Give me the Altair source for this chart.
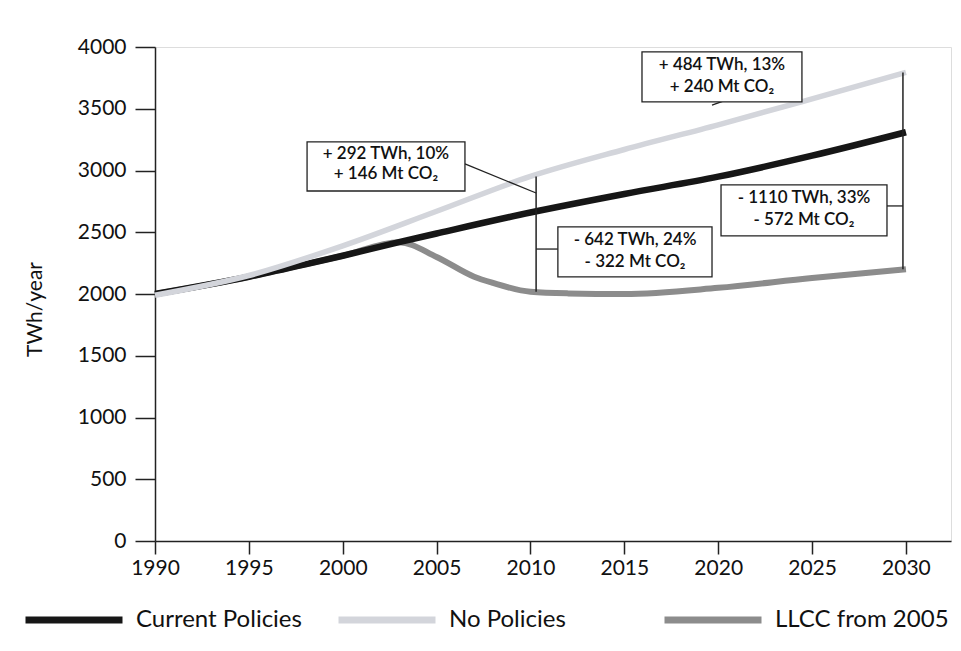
import altair as alt
import pandas as pd

# ---- series data (TWh/year) ----
years_cp = [1990, 1995, 1998, 2000, 2003, 2005, 2010, 2015, 2020, 2025, 2030]
current_policies = [2000, 2140, 2240, 2310, 2420, 2490, 2660, 2810, 2950, 3120, 3310]

years_np = [1990, 1995, 2000, 2005, 2010, 2015, 2020, 2025, 2030]
no_policies = [1990, 2150, 2390, 2670, 2952, 3170, 3370, 3580, 3794]

years_ll = [1990, 1995, 1998, 2000, 2003, 2005, 2007, 2008, 2010, 2012, 2015, 2020, 2025, 2030]
llcc = [2000, 2140, 2240, 2310, 2420, 2300, 2140, 2090, 2018, 2005, 2000, 2050, 2130, 2200]

series_names = ["Current Policies", "No Policies", "LLCC from 2005"]
series_colors = ["#161616", "#d3d5db", "#8c8c8c"]

# ---- annotation texts ----
line1_texts = ["+ 292 TWh, 10%", "- 642 TWh, 24%", "+ 484 TWh, 13%", "- 1110 TWh, 33%"]
line2_texts = ["+ 146 Mt CO\u2082", "- 322 Mt CO\u2082", "+ 240 Mt CO\u2082", "- 572 Mt CO\u2082"]

# ---- annotation placement (data coordinates) ----
box_x = [1998.1, 2011.46, 2015.94, 2020.15]
box_x2 = [2006.51, 2019.67, 2024.46, 2028.99]
box_y = [3231, 2543, 3960, 2883]
box_y2 = [2834, 2138, 3555, 2470]
text_x = [2002.3, 2015.57, 2020.2, 2024.57]
text_y1 = [3134, 2437, 3854, 2777]
text_y2 = [2972, 2259, 3676, 2599]

bracket_x = [2010.3, 2029.84]
conn_x = [2006.51, 2010.3, 2019.67, 2029.84]
conn_x_end = [2010.3, 2011.46, 2024.46, 2028.99]
conn_y = [3053, 2364, 3530, 2713]
conn_y_end = [2818, 2364, 3789, 2713]

df_cp = pd.DataFrame({"year": years_cp, "value": current_policies, "series": series_names[0]})
df_np = pd.DataFrame({"year": years_np, "value": no_policies, "series": series_names[1]})
df_ll = pd.DataFrame({"year": years_ll, "value": llcc, "series": series_names[2]})

# brackets spanning between the scenario lines at 2010 and 2030
df_br = pd.DataFrame({
    "x": bracket_x,
    "y": [llcc[years_ll.index(2010)], llcc[-1]],
    "y2": [no_policies[years_np.index(2010)], no_policies[-1]],
})
df_conn = pd.DataFrame({"x": conn_x, "x2": conn_x_end, "y": conn_y, "y2": conn_y_end})
df_box = pd.DataFrame({"x": box_x, "x2": box_x2, "y": box_y, "y2": box_y2})
df_txt = pd.DataFrame({
    "x": text_x + text_x,
    "y": text_y1 + text_y2,
    "t": line1_texts + line2_texts,
})

FONT = "Lato"
INK = "#111111"

xs = alt.Scale(domain=[1990, 2032.4], nice=False, zero=False)
ys = alt.Scale(domain=[0, 4000], nice=False)
cs = alt.Scale(domain=series_names, range=series_colors)

x_axis = alt.Axis(values=list(range(1990, 2031, 5)), format="d", title=None,
                  tickSize=13, labelPadding=3, labelFontSize=21, labelFont=FONT,
                  labelColor=INK, domainColor="#222", tickColor="#222",
                  domainWidth=1.5, tickWidth=1.5, grid=False, labelFlush=False)
y_axis = alt.Axis(values=list(range(0, 4001, 500)), format="d", title="TWh/year",
                  tickSize=20, labelPadding=9, labelFontSize=21, labelFont=FONT,
                  labelColor=INK, domainColor="#222", tickColor="#222",
                  domainWidth=1.5, tickWidth=1.5, grid=False,
                  titleFont=FONT, titleFontSize=21, titleFontWeight="normal",
                  titleColor=INK, titleX=-120, titleY=262,
                  titleAngle=270, titleBaseline="middle", titleAlign="center")

nbsp = "\u00a0"
zwsp = "\u200b"
legend = alt.Legend(
    title=None, orient="none", legendX=-133, legendY=521, direction="horizontal",
    symbolType="stroke", symbolSize=9409, symbolStrokeWidth=7,
    labelFontSize=24, labelFont=FONT, labelColor=INK, labelOffset=10,
    columnPadding=22, labelLimit=600,
    labelExpr=f"datum.label == 'No Policies' ? pad(datum.label, 21, '{nbsp}') + '{zwsp}' : datum.label",
)

def series_layer(df, width):
    return alt.Chart(df).mark_line(interpolate="monotone", strokeWidth=width, strokeCap="butt").encode(
        x=alt.X("year:Q", scale=xs, axis=x_axis),
        y=alt.Y("value:Q", scale=ys, axis=y_axis),
        color=alt.Color("series:N", scale=cs, legend=legend),
    )

l_ll = series_layer(df_ll, 6)
l_cp = series_layer(df_cp, 6.5)
l_np = series_layer(df_np, 5.5)

brackets = alt.Chart(df_br).mark_rule(color="#222", strokeWidth=1.5).encode(
    x="x:Q", y="y:Q", y2="y2:Q")
conns = alt.Chart(df_conn).mark_rule(color="#222", strokeWidth=1.3).encode(
    x="x:Q", x2="x2:Q", y="y:Q", y2="y2:Q")
boxes = alt.Chart(df_box).mark_rect(fill="white", stroke="#222", strokeWidth=1.3).encode(
    x="x:Q", x2="x2:Q", y="y:Q", y2="y2:Q")
texts = alt.Chart(df_txt).mark_text(font=FONT, fontSize=17, fontWeight=600, color=INK,
                                    align="center", baseline="middle").encode(
    x="x:Q", y="y:Q", text="t:N")

chart = alt.layer(l_ll, l_cp, l_np, brackets, conns, boxes, texts).properties(
    width=796, height=494,
    autosize=alt.AutoSizeParams(type="none"),
    padding={"left": 147, "top": 39, "right": 2, "bottom": 100},
).configure_view(stroke="#8a8a8a", strokeWidth=1.5).configure(background="white")

chart.save("out.html", embed_options={"renderer": "svg", "actions": False})
